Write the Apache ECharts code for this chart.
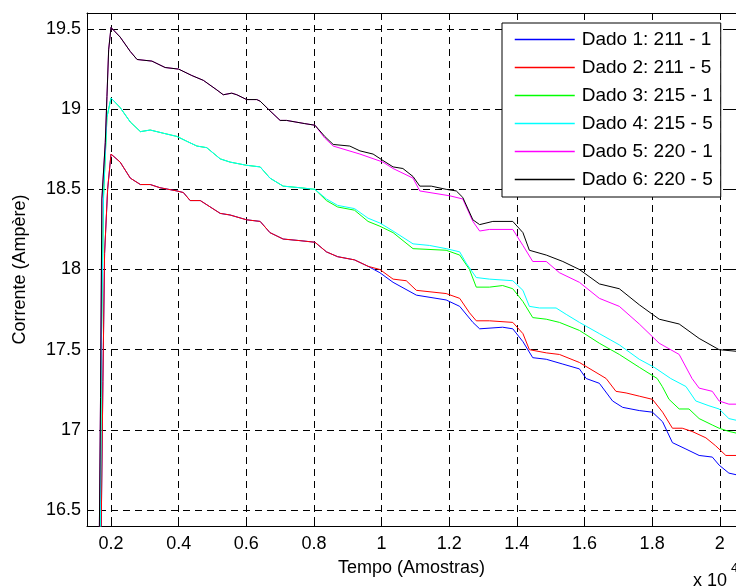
<!DOCTYPE html>
<html>
<head>
<meta charset="utf-8">
<script src="https://cdn.jsdelivr.net/npm/echarts@6/dist/echarts.min.js"></script>
<style>
  html, body { margin: 0; padding: 0; background: #fff; }
  #chart { width: 736px; height: 587px; }
</style>
</head>
<body>
<div id="chart"></div>
<script>
// nomes das curvas (legenda)
var nomes = ['Dado 1: 211 - 1', 'Dado 2: 211 - 5', 'Dado 3: 215 - 1',
             'Dado 4: 215 - 5', 'Dado 5: 220 - 1', 'Dado 6: 220 - 5'];
var cores = ['#0000ff', '#ff0000', '#00ff00', '#00ffff', '#ff00ff', '#000000'];

// limites dos eixos (x em amostras, y em ampere)
var xMin = 1290, xMax = 20480;
var yMin = 16.4, yMax = 19.6;

// trecho comum de 211 (Dado 1 e Dado 2)
var inicio211 = [[1700,16.2],[1760,17.3],[1810,18.1],[1900,18.5],[2000,18.72],[2270,18.67],[2570,18.57],
  [2870,18.53],[3160,18.53],[3450,18.51],[3950,18.49],[4140,18.48],[4340,18.43],[4640,18.43],[5230,18.35],
  [5520,18.34],[6010,18.31],[6410,18.30],[6700,18.23],[7090,18.19],[7590,18.18],[8030,18.17],[8370,18.11],
  [8700,18.08],[9200,18.06],[9600,18.02]];
var fim211_1 = [[9950,17.98],[10340,17.92],[11030,17.84],[11910,17.81],[12310,17.77],[12700,17.67],
  [12900,17.63],[13580,17.64],[13880,17.63],[14180,17.55],[14470,17.45],[14870,17.44],[15360,17.41],
  [15850,17.38],[16050,17.32],[16440,17.29],[16830,17.18],[17130,17.14],[17620,17.12],[18010,17.11],
  [18310,17.05],[18600,16.92],[19000,16.88],[19390,16.84],[19780,16.83],[19980,16.78],[20270,16.73],[20480,16.72]];
var fim211_5 = [[9950,18.00],[10340,17.94],[10730,17.93],[11030,17.87],[11910,17.85],[12310,17.82],
  [12600,17.73],[12800,17.68],[13190,17.68],[13880,17.67],[14180,17.60],[14370,17.50],[14870,17.48],
  [15260,17.47],[15850,17.42],[16640,17.32],[16930,17.24],[17230,17.23],[17620,17.21],[18010,17.19],
  [18310,17.11],[18600,17.01],[18890,17.01],[19180,16.99],[19590,16.95],[19880,16.90],[20180,16.84],[20480,16.84]];

// trecho comum de 215 (Dado 3 e Dado 4)
var inicio215 = [[1680,16.2],[1720,17.6],[1780,18.46],[1880,18.95],[2000,19.07],[2270,19.01],[2570,18.92],
  [2870,18.86],[3160,18.87],[3550,18.85],[3950,18.83],[4240,18.80],[4540,18.77],[4830,18.76],[5230,18.69],
  [5520,18.67],[6010,18.65],[6410,18.64],[6700,18.57],[7090,18.52],[7590,18.51],[8030,18.50]];
var fim215_1 = [[8370,18.43],[8700,18.39],[9200,18.37],[9600,18.30],[9950,18.27],[10340,18.23],[10930,18.13],
  [11910,18.12],[12310,18.09],[12600,18.00],[12800,17.89],[13190,17.89],[13580,17.90],[13880,17.88],
  [14180,17.80],[14470,17.70],[14870,17.69],[15260,17.67],[15850,17.62],[16440,17.54],[17030,17.47],
  [17620,17.39],[18150,17.32],[18300,17.27],[18500,17.19],[18800,17.13],[19090,17.13],[19390,17.07],
  [19780,17.03],[19980,17.01],[20270,16.99],[20480,16.98]];
var fim215_5 = [[8370,18.44],[8700,18.40],[9200,18.38],[9600,18.32],[9950,18.29],[10340,18.24],[10930,18.16],
  [11420,18.15],[11910,18.13],[12310,18.11],[12500,18.04],[12800,17.95],[13190,17.94],[13880,17.93],
  [14180,17.87],[14370,17.77],[14670,17.76],[15160,17.76],[15460,17.72],[15850,17.67],[16440,17.60],
  [17030,17.53],[17620,17.44],[18060,17.39],[18550,17.32],[19000,17.27],[19290,17.18],[19680,17.15],
  [19980,17.13],[20270,17.07],[20480,17.06]];

// trecho comum de 220 (Dado 5 e Dado 6)
var inicio220 = [[1640,16.0],[1690,17.2],[1730,18.44],[1830,18.79],[1880,19.08],[1930,19.37],[2000,19.51],
  [2270,19.45],[2570,19.36],[2770,19.31],[3210,19.30],[3600,19.26],[4000,19.25],[4390,19.21],[4730,19.18],
  [5130,19.12],[5320,19.09],[5570,19.10],[5720,19.09],[6010,19.06],[6310,19.06],[6410,19.05],[6700,18.99],
  [7000,18.93],[7190,18.93],[7730,18.91],[8030,18.90]];
var fim220_1 = [[8320,18.82],[8570,18.77],[9360,18.72],[10040,18.67],[10340,18.63],[10930,18.57],
  [11130,18.49],[12010,18.46],[12400,18.44],[12700,18.30],[12900,18.24],[13190,18.25],[13880,18.25],
  [14180,18.15],[14470,18.05],[14870,18.05],[15260,17.98],[15850,17.92],[16440,17.82],[17030,17.77],
  [17620,17.66],[18210,17.54],[18800,17.47],[19180,17.32],[19390,17.26],[19780,17.24],[19980,17.18],
  [20270,17.16],[20480,17.16]];
var fim220_5 = [[8320,18.83],[8570,18.78],[9060,18.77],[9360,18.74],[9750,18.72],[10040,18.68],[10340,18.64],
  [10630,18.63],[10930,18.58],[11130,18.52],[11470,18.52],[11910,18.50],[12210,18.49],[12400,18.45],
  [12700,18.31],[12900,18.28],[13290,18.30],[13880,18.30],[14180,18.23],[14370,18.12],[14870,18.09],
  [15360,18.05],[15850,18.00],[16440,17.91],[17030,17.88],[17620,17.78],[18210,17.69],[18800,17.66],
  [19390,17.57],[19980,17.50],[20480,17.49]];

var dados = [
  inicio211.concat(fim211_1),
  inicio211.concat(fim211_5),
  inicio215.concat(fim215_1),
  inicio215.concat(fim215_5),
  inicio220.concat(fim220_1),
  inicio220.concat(fim220_5)
];

var fonte = '"Liberation Sans", Arial, sans-serif';
var grade = { color: '#000', type: [7, 5], width: 1 };

var chart = echarts.init(document.getElementById('chart'));

// eixos extras (topo e direita) so para a caixa com ticks, estilo MATLAB
function eixoCaixa(pos, min, max, split) {
  return {
    type: 'value', position: pos, min: min, max: max, splitNumber: split,
    axisLine: { show: true, onZero: false, lineStyle: { color: '#000', width: 1 } },
    axisTick: { show: true, inside: true, length: 7, lineStyle: { color: '#000' } },
    axisLabel: { show: false },
    splitLine: { show: false }
  };
}

var option = {
  animation: false,
  backgroundColor: '#fff',
  grid: { left: 87, top: 13, width: 650, height: 513 },
  xAxis: [{
    type: 'value', position: 'bottom', min: xMin, max: xMax, splitNumber: 10,
    name: 'Tempo (Amostras)', nameLocation: 'middle', nameGap: 33,
    nameTextStyle: { fontFamily: fonte, fontSize: 18, color: '#000' },
    axisLine: { onZero: false, lineStyle: { color: '#000', width: 1 } },
    axisTick: { inside: true, length: 7, lineStyle: { color: '#000' } },
    axisLabel: {
      showMinLabel: false, showMaxLabel: false, margin: 9,
      fontFamily: fonte, fontSize: 18, color: '#000',
      formatter: function (v) { return String(+(v / 10000).toFixed(1)); }
    },
    splitLine: { show: true, lineStyle: grade }
  }, eixoCaixa('top', xMin, xMax, 10)],
  yAxis: [{
    type: 'value', position: 'left', min: yMin, max: yMax, splitNumber: 6,
    name: 'Corrente (Ampère)', nameLocation: 'middle', nameGap: 58, nameRotate: 90,
    nameTextStyle: { fontFamily: fonte, fontSize: 18, color: '#000' },
    axisLine: { onZero: false, lineStyle: { color: '#000', width: 1 } },
    axisTick: { inside: true, length: 7, lineStyle: { color: '#000' } },
    axisLabel: { showMinLabel: false, showMaxLabel: false, margin: 6, fontFamily: fonte, fontSize: 18, color: '#000' },
    splitLine: { show: true, lineStyle: grade }
  }, eixoCaixa('right', yMin, yMax, 6)],
  legend: {
    orient: 'vertical', left: 502, top: 23,
    padding: [7, 8, 8, 12], itemGap: 9, itemWidth: 60, itemHeight: 14,
    backgroundColor: '#fff', borderColor: '#000', borderWidth: 1, borderRadius: 0,
    textStyle: { fontFamily: fonte, fontSize: 19, color: '#000', padding: [0, 0, 0, 2] },
    // cor explicita em cada item: so a linha, sem o circulo do simbolo
    data: nomes.map(function (n, i) {
      return {
        name: n,
        itemStyle: { color: cores[i], opacity: 0, borderWidth: 0 },
        lineStyle: { color: cores[i], width: 1.5, opacity: 1 }
      };
    })
  },
  graphic: [
    { type: 'text', left: 693, top: 572, style: { text: 'x 10', fontFamily: fonte, fontSize: 18, fill: '#000' } },
    { type: 'text', left: 731, top: 562, style: { text: '4', fontFamily: fonte, fontSize: 13, fill: '#000' } }
  ],
  series: nomes.map(function (n, i) {
    return {
      name: n, type: 'line', xAxisIndex: 0, yAxisIndex: 0,
      data: dados[i], symbol: 'none', clip: true,
      lineStyle: { width: 1, color: cores[i] },
      itemStyle: { color: cores[i] }
    };
  })
};

chart.setOption(option);
</script>
</body>
</html>
